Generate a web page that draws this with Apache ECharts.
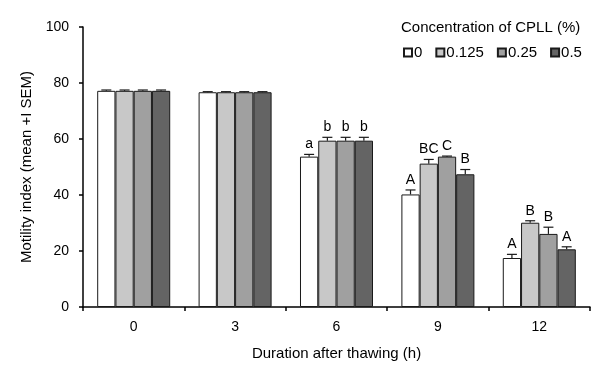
<!DOCTYPE html>
<html>
<head>
<meta charset="utf-8">
<script src="https://cdn.jsdelivr.net/npm/echarts@6/dist/echarts.min.js"></script>
<style>
  html, body { margin: 0; padding: 0; background: #fff; }
  #chart { width: 600px; height: 377px; }
</style>
</head>
<body>
<div id="chart"></div>
<script>
// hours after thawing
var durations = ['0', '3', '6', '9', '12'];
var concentrations = ['0', '0.125', '0.25', '0.5'];

// mean motility per concentration
var mean0 = [77.2, 76.7, 53.7, 40.2, 17.5];
var mean0125 = [77.2, 76.7, 59.4, 51.2, 30.1];
var mean025 = [77.2, 76.7, 59.4, 53.7, 26.1];
var mean05 = [77.2, 76.7, 59.4, 47.4, 20.6];

// SEM per concentration
var sem0 = [0.3, 0.2, 0.8, 1.6, 1.3];
var sem0125 = [0.3, 0.2, 1.2, 1.5, 0.7];
var sem025 = [0.3, 0.2, 1.2, 0.2, 2.4];
var sem05 = [0.3, 0.2, 1.2, 1.7, 0.9];

// significance letters
var letters0 = ['', '', 'a', 'A', 'A'];
var letters0125 = ['', '', 'b', 'BC', 'B'];
var letters025 = ['', '', 'b', 'C', 'B'];
var letters05 = ['', '', 'b', 'B', 'A'];

var yTicks = [0, 20, 40, 60, 80, 100];

var means = [mean0, mean0125, mean025, mean05];
var sems = [sem0, sem0125, sem025, sem05];
var letters = [letters0, letters0125, letters025, letters05];
var colors = ['#ffffff', '#c8c8c8', '#a0a0a0', '#646464'];
var font = 'Liberation Sans, Arial, sans-serif';
var gapRatio = 0.28;

function errorRenderer(k) {
    return function (params, api) {
        var i = api.value(0);
        var v = api.value(1);
        var e = api.value(2);
        var p0 = api.coord([i, v]);
        var p1 = api.coord([i, v + e]);
        var catW = api.size([1, 0])[0];
        var bw = catW * (1 - gapRatio) / 4;
        var cx = p0[0] + (k - 1.5) * bw;
        var st = {stroke: '#1a1a1a', lineWidth: 1.2};
        return {
            type: 'group',
            children: [
                {type: 'line', shape: {x1: cx, y1: p0[1], x2: cx, y2: p1[1]}, style: st},
                {type: 'line', shape: {x1: cx - 5, y1: p1[1], x2: cx + 5, y2: p1[1]}, style: st},
                {
                    type: 'text',
                    style: {
                        text: letters[k][params.dataIndex],
                        x: cx, y: p1[1] - 3,
                        align: 'center', verticalAlign: 'bottom',
                        fill: '#000', font: '14px ' + font
                    }
                }
            ]
        };
    };
}

var series = [];
for (var k = 0; k < 4; k++) {
    series.push({
        name: concentrations[k],
        type: 'bar',
        barGap: 0,
        barCategoryGap: (gapRatio * 100) + '%',
        itemStyle: {color: colors[k], borderColor: '#1a1a1a', borderWidth: 1},
        data: means[k]
    });
}
for (var k = 0; k < 4; k++) {
    var d = [];
    for (var i = 0; i < durations.length; i++) {
        d.push([i, means[k][i], sems[k][i]]);
    }
    series.push({
        name: 'err' + k,
        type: 'custom',
        renderItem: errorRenderer(k),
        z: 5,
        data: d
    });
}

var chart = echarts.init(document.getElementById('chart'));
chart.setOption({
    animation: false,
    textStyle: {fontFamily: font},
    title: {
        text: 'Concentration of CPLL (%)',
        left: 401, top: 20, padding: 0,
        textStyle: {fontSize: 15, fontWeight: 'normal', color: '#000', fontFamily: font}
    },
    legend: {
        data: concentrations,
        left: 398, top: 40,
        itemWidth: 8, itemHeight: 8, itemGap: 13,
        icon: 'rect',
        textStyle: {fontSize: 15, color: '#000', padding: [0, 0, 0, -3]}
    },
    grid: {left: 83, right: 10, top: 27, bottom: 70},
    xAxis: {
        type: 'category',
        data: durations,
        name: 'Duration after thawing (h)',
        nameLocation: 'middle',
        nameGap: 39,
        nameTextStyle: {fontSize: 15, color: '#000'},
        axisLine: {lineStyle: {color: '#000', width: 1.5}},
        axisTick: {show: true, length: 4, lineStyle: {color: '#000', width: 1.5}},
        axisLabel: {fontSize: 14, color: '#000', margin: 13}
    },
    yAxis: {
        type: 'value',
        min: yTicks[0], max: yTicks[yTicks.length - 1], interval: 20,
        name: 'Motility index (mean +I SEM)',
        nameLocation: 'middle',
        nameGap: 48,
        nameTextStyle: {fontSize: 15, color: '#000'},
        splitLine: {show: false},
        axisLine: {show: true, lineStyle: {color: '#000', width: 1.5}},
        axisTick: {show: true, length: 4, lineStyle: {color: '#000', width: 1.5}},
        axisLabel: {fontSize: 14, color: '#000', margin: 14}
    },
    series: series
});
</script>
</body>
</html>
